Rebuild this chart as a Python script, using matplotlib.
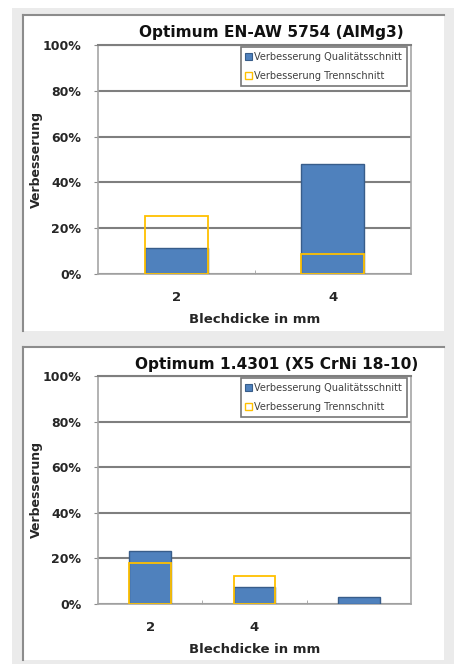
import matplotlib
matplotlib.use('Agg')
import matplotlib.pyplot as plt
from matplotlib import ticker
from matplotlib.patches import Rectangle, Patch
from matplotlib.lines import Line2D
import numpy as np

# data
cats1 = ['2', '4']
quali1 = [11.3, 48.0]
trenn1 = [25.5, 8.8]
title1 = "Optimum EN-AW 5754 (AlMg3)"

cats2 = ['2', '4', '']
quali2 = [23.4, 7.3, 3.1]
trenn2 = [18.2, 12.4, np.nan]
title2 = "Optimum 1.4301 (X5 CrNi 18-10)"

labels = ["Verbesserung Qualitätsschnitt", "Verbesserung Trennschnitt"]

BLUE = '#4f81bd'
BLUE_EDGE = '#385d8a'
YELLOW = '#ffc000'
TXT = '#262626'

W, H = 454, 664
fig = plt.figure(figsize=(W / 100, H / 100), dpi=100)
fig.patch.set_facecolor('white')


def px(x0, y0, x1, y1):
    # pixel box (top-left origin) -> figure rect
    return [x0 / W, 1 - y1 / H, (x1 - x0) / W, (y1 - y0) / H]


# grey page + white panels
r = px(12, 8, 454, 664)
fig.patches.append(Rectangle((r[0], r[1]), r[2], r[3], transform=fig.transFigure,
                             facecolor='#ebebeb', edgecolor='none', zorder=-5))
for y0, y1 in [(15, 331), (347, 660)]:
    r = px(23, y0, 444, y1)
    fig.patches.append(Rectangle((r[0], r[1]), r[2], r[3], transform=fig.transFigure,
                                 facecolor='white', edgecolor='none', zorder=-4))
    fig.lines.append(Line2D([23 / W, 23 / W], [1 - y1 / H, 1 - y0 / H],
                            transform=fig.transFigure, color='#8c8c8c', lw=1.5, zorder=-3))
    fig.lines.append(Line2D([23 / W, 444 / W], [1 - y0 / H, 1 - y0 / H],
                            transform=fig.transFigure, color='#8c8c8c', lw=1.5, zorder=-3))


def draw_panel(rect, cats, quali, trenn, title, title_x, title_y):
    ax = fig.add_axes(rect)
    ax.set_zorder(2)
    ax.set_facecolor('white')
    x = np.arange(len(cats))
    ax.bar(x, quali, width=0.4, color=BLUE, edgecolor=BLUE_EDGE, linewidth=1, zorder=3)
    ax.bar(x, trenn, width=0.4, facecolor='none', edgecolor=YELLOW, linewidth=1.3, zorder=4)

    ax.set_xlim(-0.5, len(cats) - 0.5)
    ax.set_ylim(0, 100)
    ax.set_yticks([0, 20, 40, 60, 80, 100])
    ax.yaxis.set_major_formatter(ticker.FuncFormatter(lambda v, p: '%d%%' % v))
    ax.set_xticks(x)
    ax.set_xticklabels(cats)
    ax.set_xticks(np.arange(0.5, len(cats) - 1, 1.0), minor=True)
    ax.tick_params(axis='x', which='major', length=0, pad=12, labelsize=9.5, labelcolor=TXT)
    ax.tick_params(axis='x', which='minor', length=3, direction='in', color='#a0a0a0')
    ax.tick_params(axis='y', length=3, color='#8c8c8c', pad=9, labelsize=9, labelcolor=TXT)
    for t in ax.get_xticklabels() + ax.get_yticklabels():
        t.set_fontweight('bold')

    ax.yaxis.grid(True, color='#7f7f7f', lw=1.5, zorder=1)
    ax.set_axisbelow(True)
    ax.spines['top'].set_color('#7f7f7f')
    ax.spines['top'].set_linewidth(1.5)
    for s in ['left', 'right', 'bottom']:
        ax.spines[s].set_color('#a6a6a6')
        ax.spines[s].set_linewidth(1.2)

    ax.set_ylabel("Verbesserung", fontsize=9, fontweight='bold', color=TXT)
    ax.yaxis.set_label_coords(-0.176, 0.5)
    ax.set_xlabel("Blechdicke in mm", fontsize=9.5, fontweight='bold', color=TXT)
    ax.xaxis.set_label_coords(0.5, -0.17)

    handles = [Patch(facecolor=BLUE, edgecolor=BLUE_EDGE, lw=0.8),
               Patch(facecolor='none', edgecolor=YELLOW, lw=1.0)]
    leg = ax.legend(handles, labels, loc='upper right', bbox_to_anchor=(0.987, 0.99),
                    fontsize=7, frameon=True, fancybox=False, edgecolor='#555555',
                    handlelength=0.7, handleheight=0.7, handletextpad=0.2,
                    labelspacing=0.9, borderpad=0.5, borderaxespad=0)
    leg.get_frame().set_linewidth(1.2)
    for t in leg.get_texts():
        t.set_color('#404040')

    fig.text(title_x / W, 1 - title_y / H, title, fontsize=11.1, fontweight='bold',
             color='#111111', ha='center', va='center', zorder=5)
    return ax


draw_panel(px(98, 45, 411, 274), cats1, quali1, trenn1, title1, 271, 33)
draw_panel(px(98, 376, 411, 604), cats2, quali2, trenn2, title2, 277, 364)

fig.savefig('out.png', dpi=100)
